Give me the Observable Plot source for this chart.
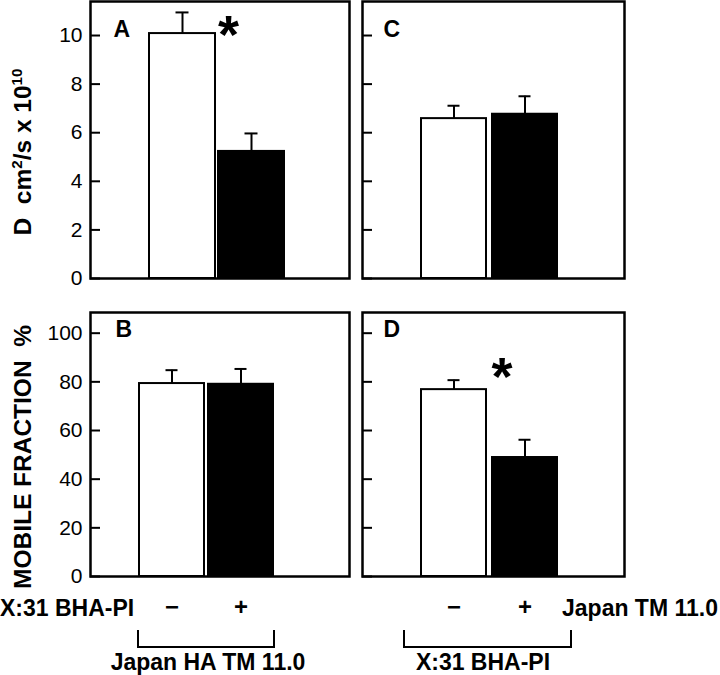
<!DOCTYPE html>
<html><head><meta charset="utf-8">
<script src="https://cdn.jsdelivr.net/npm/d3@7"></script>
<script src="https://cdn.jsdelivr.net/npm/@observablehq/plot@0.6"></script>
<style>
body{margin:0;background:#fff;}
#c{position:relative;width:720px;height:675px;font-family:"Liberation Sans",Arial,sans-serif;color:#000;background:#fff;overflow:hidden;}
#c svg{position:absolute;overflow:visible;}
.lbl{position:absolute;font-weight:bold;font-size:23px;white-space:nowrap;line-height:1;}
.ylab{position:absolute;font-weight:bold;font-size:24.5px;white-space:nowrap;line-height:1;transform:translate(-50%,-50%) rotate(-90deg);}
.ylab sup{font-size:0.62em;vertical-align:0.55em;line-height:0;}
.br{position:absolute;border:2px solid #000;border-top:none;box-sizing:border-box;}
</style></head><body><div id="c"></div>
<script>
// ---- data ----
const treatments = ["−", "+"];
const diffusionA = [10.08, 5.23];      // Panel A: D (cm²/s x 10^10)
const diffusionAErr = [0.87, 0.74];
const diffusionC = [6.58, 6.76];       // Panel C
const diffusionCErr = [0.53, 0.74];
const mobileB = [79.3, 79.0];          // Panel B: mobile fraction %
const mobileBErr = [5.5, 6.3];
const mobileD = [76.8, 48.9];          // Panel D
const mobileDErr = [3.9, 7.3];
const diffusionTicks = [0, 2, 4, 6, 8, 10];
const mobileTicks = [0, 20, 40, 60, 80, 100];
const panelLetters = ["A", "B", "C", "D"];
const starLevelA = 10.55;   // "*" significance marks (value level)
const starLevelD = 87.6;

const container = document.getElementById("c");
const FONT = "Liberation Sans, Arial, sans-serif";

function rows(values, errs) {
  return treatments.map((t, i) => ({treatment: t, value: values[i], top: values[i] + errs[i]}));
}

function panel(o) {
  const data = rows(o.values, o.errs);
  const frameW = o.width - o.ml - o.mr;
  const marks = [
    Plot.barY(data, {x: "treatment", y: "value", fill: "treatment", stroke: "black", strokeWidth: 2}),
    Plot.ruleX(data, {x: "treatment", y1: "value", y2: "top", stroke: "black", strokeWidth: 2}),
    Plot.tickY(data, {x: "treatment", y: "top", stroke: "black", strokeWidth: 2, insetLeft: 26.5, insetRight: 26.5}),
    Plot.tickY(o.ticks, {y: d => d, stroke: "black", strokeWidth: 2, insetRight: frameW - 10}),
    Plot.frame({stroke: "black", strokeWidth: 2.5}),
    Plot.text([o.letter], {frameAnchor: "top-left", dx: o.ldx, dy: o.ldy, lineAnchor: "top", textAnchor: "start", fontSize: 23, fontWeight: "bold", fill: "black"})
  ];
  if (o.showY) marks.push(Plot.axisY(o.ticks, {tickSize: 0, tickPadding: 8, fontSize: 21, label: null, fill: "black"}));
  if (o.showX) marks.push(Plot.axisX({tickSize: 0, tickPadding: 21, fontSize: 24, fontWeight: "bold", label: null, fill: "black"}));
  if (o.star != null) marks.push(Plot.text([{treatment: "+", level: o.star}], {x: "treatment", y: "level", text: () => "*", fontSize: 54, fontWeight: "bold", dx: -23, dy: 14, fill: "black"}));
  const xs = {domain: treatments, paddingInner: o.pi, paddingOuter: o.po, align: o.align};
  const ys = {domain: [0, o.yMax]};
  if (!o.showX) xs.axis = null;
  if (!o.showY) ys.axis = null;
  const svg = Plot.plot({
    width: o.width, height: o.height,
    marginLeft: o.ml, marginRight: o.mr, marginTop: o.mt, marginBottom: o.mb,
    x: xs, y: ys,
    color: {domain: treatments, range: ["white", "black"]},
    style: {fontFamily: FONT, color: "black", background: "transparent"},
    marks
  });
  svg.style.left = o.left + "px";
  svg.style.top = o.top + "px";
  container.appendChild(svg);
}

// Panel A
panel({values: diffusionA, errs: diffusionAErr, ticks: diffusionTicks, yMax: 11.4, letter: panelLetters[0], ldx: 23, ldy: 19.5,
  showY: true, showX: false, star: starLevelA,
  left: 0, top: 0, width: 356, height: 290, ml: 90, mr: 7, mt: 1, mb: 12, pi: 0.05, po: 0.9, align: 0.476});
// Panel C
panel({values: diffusionC, errs: diffusionCErr, ticks: diffusionTicks, yMax: 11.4, letter: panelLetters[2], ldx: 21, ldy: 19,
  showY: false, showX: false, star: null,
  left: 356, top: 0, width: 275, height: 290, ml: 6, mr: 7, mt: 1, mb: 12, pi: 0.084, po: 0.874, align: 0.472});
// Panel B
panel({values: mobileB, errs: mobileBErr, ticks: mobileTicks, yMax: 108.5, letter: panelLetters[1], ldx: 25, ldy: 8,
  showY: true, showX: true, star: null,
  left: 0, top: 300, width: 356, height: 320, ml: 90, mr: 7, mt: 12, mb: 44, pi: 0.0576, po: 0.892, align: 0.395});
// Panel D
panel({values: mobileD, errs: mobileDErr, ticks: mobileTicks, yMax: 108.5, letter: panelLetters[3], ldx: 21, ldy: 8,
  showY: false, showX: true, star: starLevelD,
  left: 356, top: 300, width: 275, height: 320, ml: 6, mr: 7, mt: 12, mb: 44, pi: 0.084, po: 0.874, align: 0.472});

// Axis titles and group labels
function addDiv(cls, html, css) {
  const d = document.createElement("div");
  d.className = cls; d.innerHTML = html;
  Object.assign(d.style, css);
  container.appendChild(d);
  return d;
}
addDiv("ylab", "D&nbsp; cm<sup>2</sup>/s x 10<sup>10</sup>", {left: "23px", top: "152px"});
addDiv("ylab", "MOBILE FRACTION&nbsp; %", {left: "23px", top: "457px"});
addDiv("lbl", "X:31 BHA-PI", {left: "0px", top: "608px", transform: "translateY(-50%)"});
addDiv("lbl", "Japan TM 11.0", {left: "562px", top: "608px", transform: "translateY(-50%)"});
addDiv("br", "", {left: "137px", top: "630px", width: "138px", height: "18px"});
addDiv("br", "", {left: "403px", top: "630px", width: "169px", height: "18px"});
addDiv("lbl", "Japan HA TM 11.0", {left: "208px", top: "662px", transform: "translate(-50%,-50%)"});
addDiv("lbl", "X:31 BHA-PI", {left: "483px", top: "662px", transform: "translate(-50%,-50%)"});
</script>
</body></html>
